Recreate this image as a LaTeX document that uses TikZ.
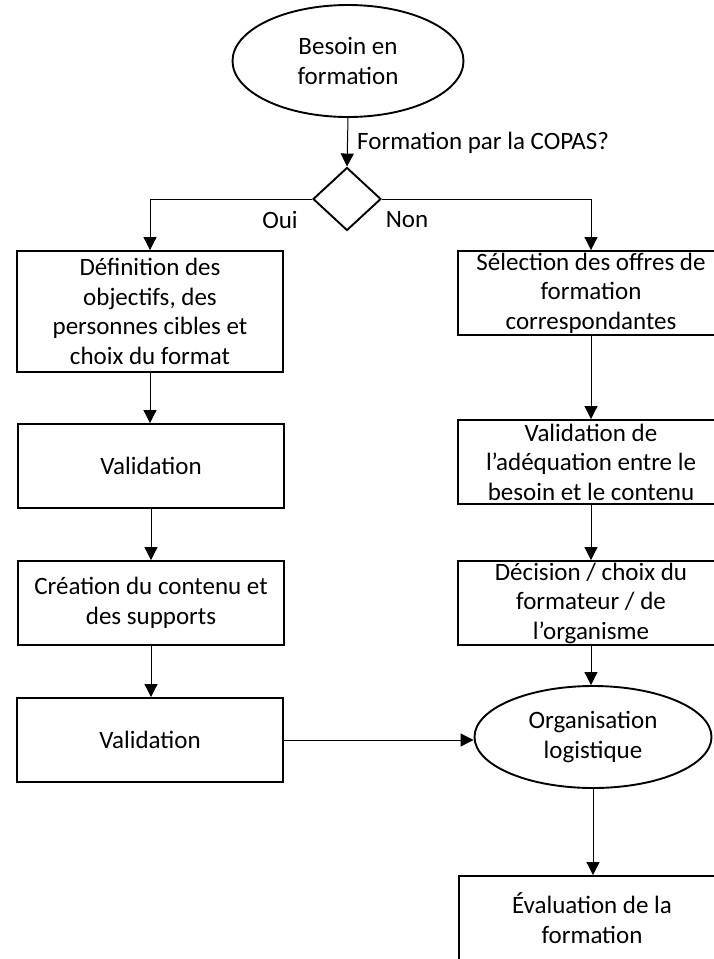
\documentclass[tikz,border=0pt]{standalone}
\usepackage{fontspec}
\setmainfont{Carlito}
\usetikzlibrary{shapes.geometric,arrows.meta}
\begin{document}
\begin{tikzpicture}[x=1pt,y=-1pt,
  txt/.style={font=\fontsize{25}{29.5}\selectfont},
  box/.style={txt,draw,line width=1.9pt,rectangle,minimum width=266pt,minimum height=84pt,inner sep=0pt,align=center},
  oval/.style={txt,draw,line width=1.9pt,ellipse,inner sep=0pt,align=center},
  arr/.style={line width=1pt,-{Triangle[length=13pt,width=13pt]}}]
\useasboundingbox (0,0) rectangle (714,959);
\clip (0,0) rectangle (714,959);
\node[oval,minimum width=231pt,minimum height=112pt] (start) at (348,61) {Besoin en\\formation};
\node[draw,diamond,line width=1.9pt,minimum width=68pt,minimum height=63pt,inner sep=0pt] (dec) at (347,199) {};
\node[box,minimum height=121pt] (b1) at (150,311.5) {Définition des\\objectifs, des\\personnes cibles et\\choix du format};
\node[box] (b2) at (151,466) {Validation};
\node[box] (b3) at (151,603) {Création du contenu et\\des supports};
\node[box] (b4) at (150,740) {Validation};
\node[box] (r1) at (591,293) {Sélection des offres de\\formation\\correspondantes};
\node[box] (r2) at (591,462) {Validation de\\l’adéquation entre le\\besoin et le contenu};
\node[box] (r3) at (591,603) {Décision / choix du\\formateur / de\\l’organisme};
\node[oval,minimum width=237pt,minimum height=102pt] (org) at (593,737) {Organisation\\logistique};
\node[box] (ev) at (592,918) {Évaluation de la\\formation};
\node[txt,anchor=west,inner sep=0pt] (q) at (357,143) {Formation par la COPAS?};
\node[txt,inner sep=0pt] (oui) at (280,220) {Oui};
\node[txt,inner sep=0pt] (non) at (407,220) {Non};
\draw[arr] (start.south) -- (dec.north);
\draw[arr] (dec.west) -| (b1.north);
\draw[arr] (dec.east) -| (r1.north);
\draw[arr] (b1.south) -- (b2.north -| b1.south);
\draw[arr] (b2.south) -- (b3.north);
\draw[arr] (b3.south) -- (b4.north -| b3.south);
\draw[arr] (r1.south) -- (r2.north);
\draw[arr] (r2.south) -- (r3.north);
\draw[arr] (r3.south) -- (org.north -| r3.south);
\draw[arr] (b4.east) -- (org.west |- b4.east);
\draw[arr] (org.south) -- (ev.north -| org.south);
\end{tikzpicture}
\end{document}
